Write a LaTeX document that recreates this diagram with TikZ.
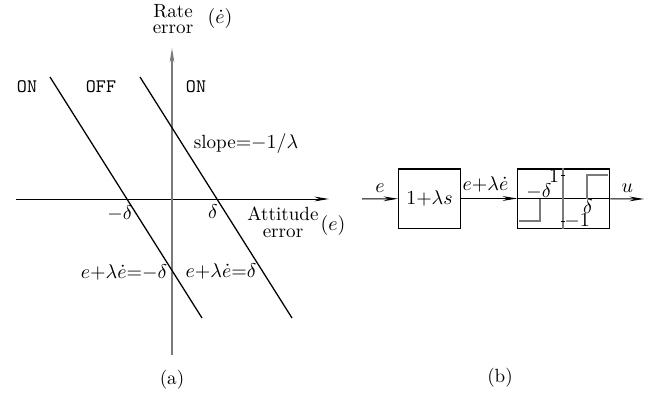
\documentclass[tikz,border=0pt]{standalone}
\usepackage{amsmath,amssymb}
\usepackage{tikz}
\usetikzlibrary{arrows.meta,positioning}
\definecolor{AxisGrey}{HTML}{7A7A7A}

\begin{document}
\begin{tikzpicture}[
    x=0.55pt,y=-0.55pt,
    font=\fontsize{10.5}{12}\selectfont,
    node distance=31pt,
    lbl/.style={inner sep=0pt},
    box/.style={draw,line width=0.6pt,minimum height=32.5pt,inner sep=2pt},
    arr/.style={-{Stealth[length=8pt,width=2.6pt]},line width=0.55pt},
    swline/.style={line width=0.7pt},
    gaxis/.style={AxisGrey,line width=0.7pt}
  ]
    \useasboundingbox (0,0) rectangle (654,395);
    % (a) phase plane
    \coordinate (xl) at (16,199);
    \coordinate (xr) at (329,199);
    \coordinate (yb) at (172,355);
    \coordinate (yt) at (172,48);
    \draw[arr] (xl) -- (xr);
    \draw[gaxis,-{Stealth[length=8pt,width=2.6pt]}] (yb) -- (yt);
    \coordinate (s1a) at (50,77);  \coordinate (s1b) at (202,318);
    \coordinate (s2a) at (140,77); \coordinate (s2b) at (292,318);
    \draw[swline] (s1a) -- (s1b);
    \draw[swline] (s2a) -- (s2b);
    \node[lbl] (rate) at (173,11) {Rate};
    \node[lbl] (rerr) at (173,29) {error};
    \node[lbl] (edot) at (220,19) {$(\dot e)$};
    \node[lbl,font=\fontsize{10.5}{12}\selectfont\ttfamily] (on1) at (27,87) {ON};
    \node[lbl,font=\fontsize{10.5}{12}\selectfont\ttfamily] (off) at (101,87) {OFF};
    \node[lbl,font=\fontsize{10.5}{12}\selectfont\ttfamily] (on2) at (196,87) {ON};
    \node[lbl] (slope) at (246,144) {slope$=$$-1/\lambda$};
    \node[lbl] (mdel) at (120,213) {$-\delta$};
    \node[lbl] (pdel) at (213,212) {$\delta$};
    \node[lbl] (att) at (283,214) {Attitude};
    \node[lbl] (aerr) at (283,233) {error};
    \node[lbl] (eax) at (333,226) {$(e)$};
    \node[lbl] (sw1) at (124,272) {$e{+}\lambda\dot e{=}{-}\delta$};
    \node[lbl] (sw2) at (221,271) {$e{+}\lambda\dot e{=}\delta$};
    \node[lbl] (capa) at (172,380) {(a)};
    % (b) block diagram
    \coordinate (in) at (362,199);
    \node[box,minimum width=34pt] (lead) at (429.5,198.5) {$1{+}\lambda s$};
    \node[box,minimum width=50.6pt,right=of lead] (rly) {};
    \coordinate (out) at (644,199);
    \draw[arr] (in) -- node[above,lbl,yshift=3pt] {$e$} (lead);
    \draw[arr] (lead) -- node[above,lbl,yshift=3pt,xshift=-2pt] {$e{+}\lambda\dot e$} (rly);
    \draw[arr] (rly) -- node[above,lbl,yshift=3pt] {$u$} (out);
    \draw[line width=0.55pt] (rly.west) -- (rly.east);
    \draw[gaxis] (rly.north -| 563,0) -- (rly.south -| 563,0);
    \draw[line width=0.5pt] (561,175) -- (565,175) (561,221) -- (565,221);
    \draw[gaxis] (519,221) -- (540,221) -- (540,199);
    \draw[gaxis] (587,199) -- (587,175) -- (608,175);
    \node[lbl] (one) at (554,176) {$1$};
    \node[lbl] (mone) at (577,221) {$-1$};
    \node[lbl] (rmd) at (539,191) {$-\delta$};
    \node[lbl] (rpd) at (588,207) {$\delta$};
    \node[lbl] (capb) at (500,378) {(b)};
  \end{tikzpicture}
\end{document}
